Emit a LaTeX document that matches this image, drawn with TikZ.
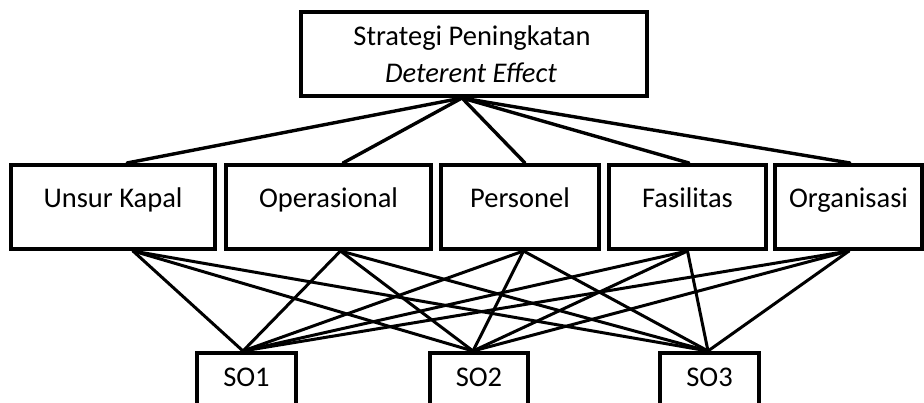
\documentclass[tikz,border=0pt]{standalone}
\usepackage{fontspec}
\setmainfont{Carlito}
\begin{document}
\begin{tikzpicture}[x=1pt,y=-1pt,
  box/.style={draw=black, line width=4pt, fill=white, inner sep=0pt, font=\fontsize{28.5}{37}\selectfont},
  midbox/.style={box, text height=43pt, text depth=41pt, anchor=base, minimum height=84pt},
  sobox/.style={box, text height=34pt, text depth=30pt, anchor=base},
  txt/.style={inner sep=0pt, anchor=base, font=\fontsize{28.5}{37}\selectfont},
  upline/.style={line width=3.4pt, line cap=round},
  lowline/.style={line width=3pt, line cap=round}]
\useasboundingbox (0,0) rectangle (924,403);
\fill[white] (0,0) rectangle (924,403);

% top box
\node[box, minimum width=346pt, minimum height=84pt] (top) at (474,54) {};
\node[txt] (topa) at (472,46) {Strategi Peningkatan};
\node[txt] (topb) at (471,83) {\itshape Deterent Effect};

% middle row
\node[midbox, minimum width=204pt] (unsur) at (113,208) {Unsur Kapal};
\node[midbox, minimum width=205pt] (oper)  at (328.5,208) {Operasional};
\node[midbox, minimum width=158pt] (pers)  at (520,208) {Personel};
\node[midbox, minimum width=157pt] (fas)   at (687.5,208) {Fasilitas};
\node[midbox, minimum width=147pt] (org)   at (848.5,208) {Organisasi};

% bottom row
\node[sobox, minimum width=99pt] (so1) at (246.5,387) {SO1};
\node[sobox, minimum width=98pt] (so2) at (479,387) {SO2};
\node[sobox, minimum width=99pt] (so3) at (709.5,387) {SO3};

% upper connectors
\draw[upline] ([xshift=-12pt]top.south) -- ([xshift=14pt]unsur.north);
\draw[upline] ([xshift=-12pt]top.south) -- ([xshift=14.5pt]oper.north);
\draw[upline] ([xshift=-12pt]top.south) -- ([xshift=5pt]pers.north);
\draw[upline] ([xshift=-12pt]top.south) -- ([xshift=1.5pt]fas.north);
\draw[upline] ([xshift=-12pt]top.south) -- ([xshift=1.5pt]org.north);

% lower connectors
\foreach \m/\mx in {unsur/20, oper/12, pers/3.5, fas/0, org/0.5}{
  \draw[lowline] ([xshift=\mx pt]\m.south) -- ([xshift=-3.5pt]so1.north);
  \draw[lowline] ([xshift=\mx pt]\m.south) -- ([xshift=-6pt]so2.north);
  \draw[lowline] ([xshift=\mx pt]\m.south) -- ([xshift=-1.5pt]so3.north);
}
\end{tikzpicture}
\end{document}
